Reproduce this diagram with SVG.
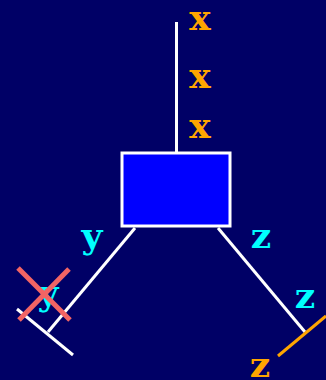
<svg xmlns="http://www.w3.org/2000/svg" width="326" height="380" viewBox="0 0 326 380">
<style>
.t{font-family:"DejaVu Serif","Liberation Serif",serif;font-weight:bold;font-size:36px;text-anchor:middle}
.o{fill:#FFA500}
.c{fill:#00FFFF}
.w{stroke:#FFFFFF;stroke-width:3;fill:none}
.x{stroke:#F26464;stroke-width:5}
</style>
<rect x="0" y="0" width="326" height="380" fill="#000066"/>
<g id="connectors">
<line class="w" x1="176.5" y1="22" x2="176.5" y2="153"/>
<line class="w" x1="135" y1="228" x2="48" y2="332"/>
<line class="w" x1="17" y1="309" x2="73" y2="355"/>
<line class="w" x1="218" y1="228" x2="305" y2="332"/>
<line x1="278" y1="356" x2="326" y2="316" stroke="#FFA500" stroke-width="3"/>
</g>
<g id="box">
<rect x="122" y="153" width="108" height="73" fill="#0000FF" stroke="#FFFFFF" stroke-width="3"/>
</g>
<g id="labels-x">
<text class="t o" x="200" y="30">x</text>
<text class="t o" x="200" y="88">x</text>
<text class="t o" x="200" y="138">x</text>
</g>
<g id="labels-y">
<text class="t c" x="92" y="248">y</text>
<text class="t c" x="48" y="305">y</text>
</g>
<g id="cross">
<line class="x" x1="18" y1="268" x2="70" y2="320"/>
<line class="x" x1="69" y1="269" x2="19" y2="320"/>
</g>
<g id="labels-z">
<text class="t c" x="261" y="248">z</text>
<text class="t c" x="305" y="308">z</text>
<text class="t o" x="260" y="377">z</text>
</g>
</svg>
